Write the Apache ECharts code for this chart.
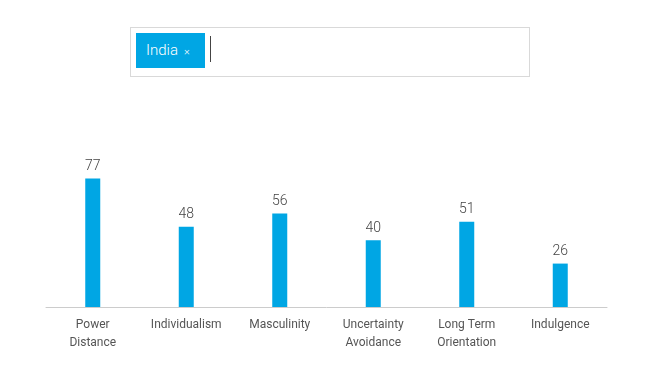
<!DOCTYPE html>
<html>
<head>
<meta charset="utf-8">
<script src="https://cdn.jsdelivr.net/npm/echarts@6/dist/echarts.min.js"></script>
<style>
  html, body { margin: 0; padding: 0; background: #fff; }
  .wrap { position: relative; width: 645px; height: 375px; font-family: Roboto, "Open Sans", sans-serif; }
  .picker {
    position: absolute; left: 130px; top: 27px; width: 400px; height: 50px;
    border: 1px solid #d9d9d9; box-sizing: border-box; background: #fff;
  }
  .tag {
    position: absolute; left: 5px; top: 5px; width: 69px; height: 35px;
    background: #00a6e4; color: #fff; font-size: 15px; font-weight: 300; line-height: 35px;
    box-sizing: border-box; padding-left: 10px;
  }
  .tag .x { font-size: 11px; margin-left: 6px; color: #e6f6fc; }
  .cursor { position: absolute; left: 79px; top: 8px; width: 1px; height: 26px; background: #444; }
  #chart { position: absolute; left: 0; top: 0; width: 645px; height: 375px; }
</style>
</head>
<body>
<div class="wrap">
  <div id="chart"></div>
  <div class="picker">
    <div class="tag">India<span class="x">×</span></div>
    <div class="cursor"></div>
  </div>
</div>
<script>
  // 维度名称
  const categories = ['Power\nDistance', 'Individualism', 'Masculinity', 'Uncertainty\nAvoidance', 'Long Term\nOrientation', 'Indulgence']
  // India 的得分
  const scores = [77, 48, 56, 40, 51, 26]

  let chart = echarts.init(document.getElementById('chart'))
  let option = {
    animation: false,
    grid: { left: 46, right: 38, top: 140, height: 167 },
    xAxis: [{
      type: 'category',
      data: categories,
      axisTick: { show: false },
      axisLine: { lineStyle: { color: '#cccccc', width: 1 } },
      axisLabel: {
        color: '#555', fontSize: 12, lineHeight: 18, margin: 9,
        fontFamily: 'Roboto, sans-serif', interval: 0
      }
    }],
    yAxis: [{
      type: 'value', min: 0, max: 100,
      show: false,
      splitLine: { show: false }
    }],
    series: [{
      name: 'India',
      type: 'bar',
      data: scores,
      barWidth: 15,
      itemStyle: { color: '#00a6e4' },
      label: {
        show: true, position: 'top', distance: 5,
        color: '#444', fontSize: 14, fontWeight: 300, fontFamily: 'Roboto, sans-serif'
      }
    }]
  }
  chart.setOption(option)
</script>
</body>
</html>
